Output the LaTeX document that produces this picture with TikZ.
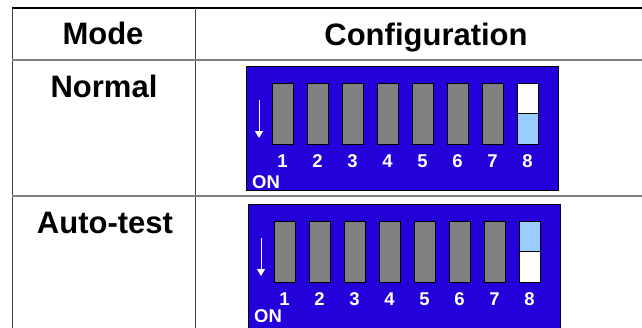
\documentclass[tikz,border=0pt]{standalone}
\usepackage{fontspec}
\setmainfont{Liberation Sans}
\usetikzlibrary{positioning, arrows.meta}

\definecolor{dipblue}{RGB}{36,0,218}
\definecolor{swgray}{RGB}{128,128,128}
\definecolor{swlight}{RGB}{153,204,255}

\begin{document}
\begin{tikzpicture}[x=1pt, y=-1pt, on grid,
  head/.style={font=\fontsize{31}{37}\selectfont\bfseries, inner sep=0pt},
  dip/.style={draw=black, fill=dipblue, minimum width=312pt, minimum height=124pt, inner sep=0pt},
  switch/.style={draw=black, fill=swgray, minimum width=21pt, minimum height=61pt, inner sep=0pt},
  num/.style={text=white, font=\fontsize{18.5}{22}\selectfont\bfseries, inner sep=0pt}]
\useasboundingbox (0,0) rectangle (642,327);
\clip (0,0) rectangle (642,327);

% Table lines
\draw[line width=1.3pt] (12,8) -- (660,8);
\draw[line width=1pt, black!75] (12,8) -- (12,340);
\draw[line width=1pt, black!75] (195,8) -- (195,340);
\draw[line width=2.2pt, swgray] (12,60) -- (660,60);
\draw[line width=1.8pt, swgray] (12,196) -- (660,196);

% Headings and modes
\node[head, anchor=base] (mode) at (103,44) {Mode};
\node[head, anchor=base] (config) at (426,45) {Configuration};
\node[head, anchor=base] (normal) at (104,97) {Normal};
\node[head, anchor=base] (autotest) at (105,233) {Auto-test};

% DIP switches
\foreach \r/\dx/\dy/\ony/\up/\down in {n/0/0/188/white/swlight, a/2/138/322/swlight/white} {
	\node[dip, anchor=north west] (dip\r) at (246+\dx,66+\dy) {};
	\node[switch] (\r1) at (282.5+\dx,113.5+\dy) {};
	\foreach \i in {2,...,8} {
		\pgfmathtruncatemacro{\j}{\i - 1}
		\node[switch, right=35pt of \r\j] (\r\i) {};
	}
	% switch 8 halves
	\filldraw[fill=\down] (\r8.north west) rectangle (\r8.south east);
	\filldraw[fill=\up] (\r8.north west) rectangle (\r8.east);
	% numbers
	\foreach \i in {1,...,8} {
		\node[num, anchor=base] (\r lab\i) at ({282.5+\dx+35*(\i-1)},{167+\dy}) {\i};
	}
	\node[num, anchor=base west] (on\r) at (252+\dx,\ony) {ON};
	\coordinate (\r top) at (259+\dx,100+\dy);
	\coordinate (\r bot) at (259+\dx,138+\dy);
	\draw[white, line width=0.9pt, -{Triangle[width=8pt, length=7pt]}] (\r top) -- (\r bot);
}
\end{tikzpicture}
\end{document}
